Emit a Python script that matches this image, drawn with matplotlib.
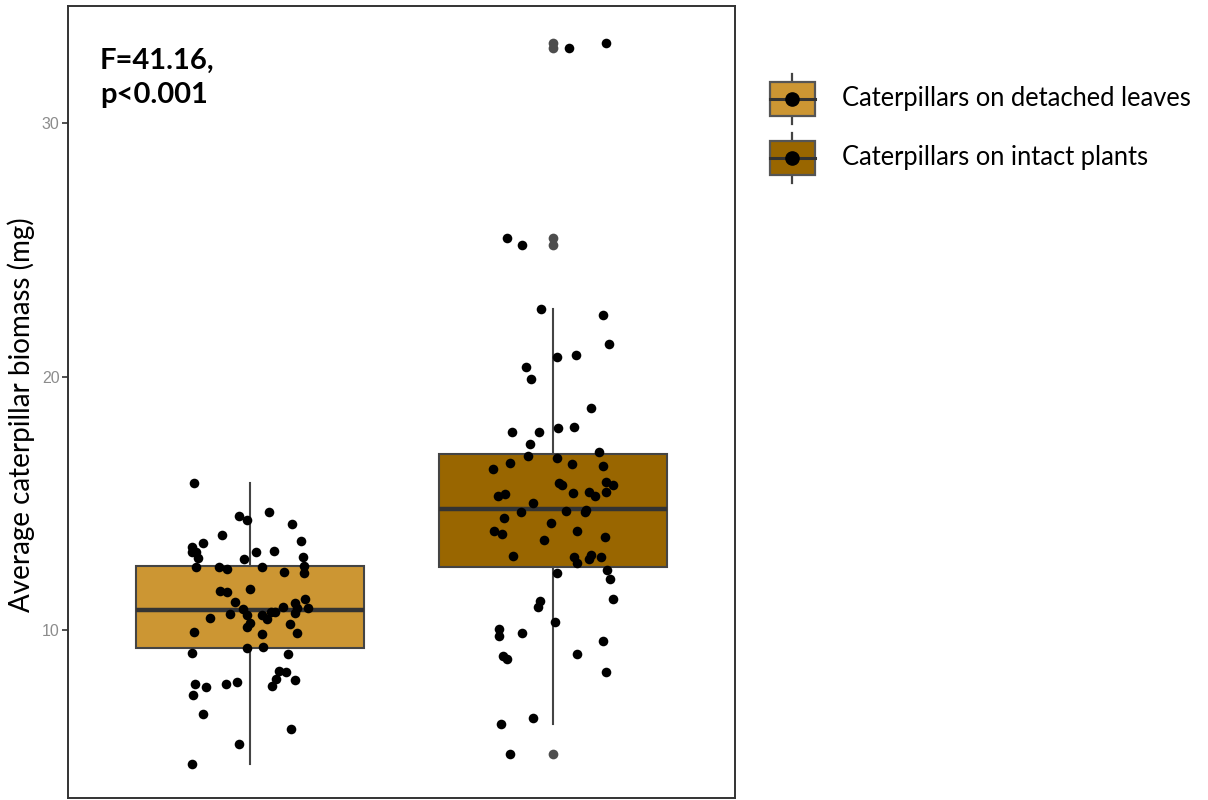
import matplotlib
matplotlib.use("Agg")
import matplotlib.pyplot as plt
from matplotlib.legend_handler import HandlerBase
from matplotlib.patches import Rectangle, Patch
from matplotlib.lines import Line2D
import numpy as np

groups = ["Caterpillars on detached leaves", "Caterpillars on intact plants"]
fills = ["#CC9633", "#996600"]

# biomass per replicate (mg) and horizontal jitter used for each dot
detached_biomass = [15.79, 14.50, 14.34, 14.67, 14.17, 13.75, 13.44, 13.29, 13.09, 13.09,
                    12.83, 13.51, 13.07, 13.13, 12.79, 12.87, 12.47, 12.49, 12.42, 12.49,
                    12.52, 12.26, 12.28, 11.53, 11.49, 11.62, 11.09, 11.21, 11.05, 10.88,
                    10.88, 10.92, 10.82, 10.70, 10.70, 10.48, 10.62, 10.59, 10.59, 10.68,
                    10.29, 10.13, 10.42, 10.24, 9.93, 9.83, 9.89, 9.30, 9.34, 9.08,
                    9.05, 8.38, 8.34, 8.06, 8.02, 7.79, 7.86, 7.74, 7.86, 7.95,
                    7.44, 6.70, 6.08, 5.51, 4.71]
detached_jitter = [-0.183, -0.035, -0.008, 0.064, 0.138, -0.091, -0.154, -0.191, -0.192, -0.178,
                   -0.171, 0.168, 0.020, 0.078, -0.018, 0.174, -0.179, -0.101, -0.077, 0.040,
                   0.179, 0.179, 0.111, -0.099, -0.074, 0.001, -0.050, 0.183, 0.149, 0.156,
                   0.193, 0.110, -0.022, 0.068, 0.083, -0.130, -0.066, -0.011, 0.039, 0.149,
                   0.000, -0.011, 0.057, 0.132, -0.185, 0.039, 0.154, -0.011, 0.042, -0.191,
                   0.127, 0.097, 0.119, 0.086, 0.150, 0.072, -0.182, -0.145, -0.079, -0.044,
                   -0.187, -0.155, 0.135, -0.035, -0.192]

intact_biomass = [33.15, 32.97, 25.48, 25.18, 5.12,
                  22.66, 22.43, 21.28, 20.76, 20.84, 20.39, 19.89, 18.76, 17.82, 17.82,
                  17.96, 18.02, 17.33, 17.01, 16.86, 16.77,
                  16.60, 16.35, 16.54, 16.47, 15.83, 15.72, 15.81, 15.72, 15.46, 15.42,
                  15.46, 15.30, 15.30, 15.35, 15.02, 14.65, 14.71, 14.73, 14.64, 14.42,
                  14.23, 13.92, 13.79, 13.91, 13.67, 13.54, 12.93, 12.87, 12.65, 12.81,
                  12.96, 12.89,
                  12.37, 12.00, 12.24, 11.22, 11.13, 10.90, 10.30, 10.04, 9.78, 9.87,
                  9.57, 8.97, 8.86, 9.04, 8.34, 6.52, 6.30]
intact_jitter = [0.174, 0.053, -0.151, -0.103, -0.143,
                 -0.041, 0.164, 0.186, 0.012, 0.076, -0.089, -0.072, 0.125, -0.134, -0.045,
                 0.017, 0.068, -0.077, 0.150, -0.083, 0.012,
                 -0.142, -0.199, 0.063, 0.164, 0.175, 0.199, 0.018, 0.030, 0.173, 0.065,
                 0.117, 0.139, -0.183, -0.158, -0.065, -0.107, 0.041, 0.109, 0.105, -0.163,
                 -0.006, -0.195, -0.169, 0.079, 0.172, -0.030, -0.132, 0.068, 0.078, 0.117,
                 0.125, 0.158,
                 0.177, 0.188, 0.012, 0.197, -0.043, -0.050, 0.007, -0.177, -0.177, -0.103,
                 0.165, -0.166, -0.153, 0.080, 0.174, -0.065, -0.173]

# box summaries: lower whisker, Q1, median, Q3, upper whisker
detached_stats = [4.71, 9.29, 10.79, 12.52, 15.79]
intact_stats = [6.30, 12.49, 14.77, 16.94, 22.66]
intact_outliers = [33.15, 32.97, 25.48, 25.18, 5.12]

BODY_FONT = ["Lato", "DejaVu Sans"]


class BoxKey(HandlerBase):
    # legend key: whisker, filled box, median bar and a dot
    def create_artists(self, legend, orig_handle, xdescent, ydescent,
                       width, height, fontsize, trans):
        x0, y0 = -xdescent, -ydescent
        cx, cy = x0 + width / 2, y0 + height / 2
        wh = 0.98 * fontsize
        bh = 0.665 * fontsize
        whisk = Line2D([cx, cx], [cy - wh, cy + wh], color="#444444", lw=1.6, transform=trans)
        box = Rectangle((x0, cy - bh), width, 2 * bh, facecolor=orig_handle.get_facecolor(),
                        edgecolor="#555555", lw=1.6, transform=trans)
        med = Line2D([x0, x0 + width], [cy, cy], color="#333333", lw=2.2, transform=trans)
        dot = Line2D([cx], [cy], marker="o", ms=9.5, color="black", transform=trans)
        return [whisk, box, med, dot]


fig = plt.figure(figsize=(12.08, 8), dpi=100)
ax = fig.add_axes([68 / 1208, 2 / 800, 667 / 1208, 792 / 800])

stats = []
for s, fl in zip([detached_stats, intact_stats], [[], intact_outliers]):
    stats.append(dict(whislo=s[0], q1=s[1], med=s[2], q3=s[3], whishi=s[4], fliers=fl))

bp = ax.bxp(stats, positions=[1, 2], widths=0.75, patch_artist=True, showcaps=False,
            boxprops=dict(edgecolor="#444444", linewidth=1.5),
            medianprops=dict(color="#333333", linewidth=3.2),
            whiskerprops=dict(color="#444444", linewidth=1.5),
            flierprops=dict(marker="o", markersize=7, markerfacecolor="#4d4d4d",
                            markeredgecolor="none"))
for patch, c in zip(bp["boxes"], fills):
    patch.set_facecolor(c)
    patch.set_zorder(2)

ax.scatter(1 + np.array(detached_jitter), detached_biomass, s=48, color="black",
           linewidths=0, zorder=3)
ax.scatter(2 + np.array(intact_jitter), intact_biomass, s=48, color="black",
           linewidths=0, zorder=3)

ax.set_xlim(0.4, 2.6)
ax.set_ylim(3.37, 34.62)
ax.set_xticks([])
ax.set_yticks([10, 20, 30])
ax.tick_params(axis="y", length=4, width=1.2, color="#333333", labelcolor="#8c8c8c",
               labelsize=11.5, pad=2)
for lab in ax.get_yticklabels():
    lab.set_family(["Liberation Sans", "DejaVu Sans"])
for sp in ax.spines.values():
    sp.set_color("#333333")
    sp.set_linewidth(1.4)

ax.set_ylabel("Average caterpillar biomass (mg)", fontsize=20, family=BODY_FONT)
ax.yaxis.set_label_coords(-0.049, 0.4836)

ax.text(0.048, 0.947, "F=41.16,\np<0.001", transform=ax.transAxes, ha="left", va="top",
        fontsize=21, fontweight="bold", family=BODY_FONT, linespacing=1.38)

fs = 18.4
fig.legend(handles=[Patch(facecolor=c) for c in fills], labels=groups,
           handler_map={Patch: BoxKey()}, loc="upper left",
           bbox_to_anchor=(770 / 1208, 1 - 69.5 / 800), frameon=False,
           borderpad=0, borderaxespad=0, prop=dict(family=BODY_FONT, size=fs),
           handlelength=1.76, handleheight=3.17, labelspacing=0.0, handletextpad=1.05)

fig.savefig("out.png", dpi=100)
